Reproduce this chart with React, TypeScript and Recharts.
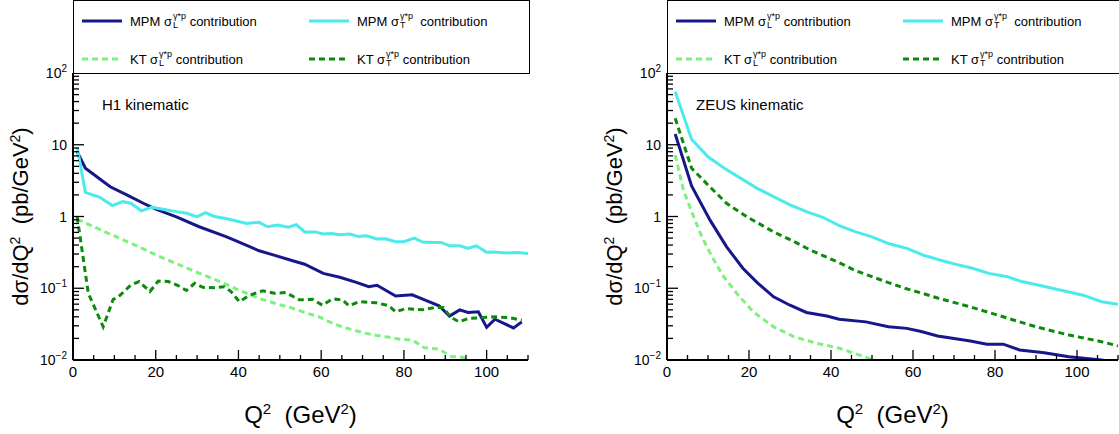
import React from "react";
import { LineChart, Line, XAxis, YAxis, Legend, Customized } from "recharts";

const FONT = "'Liberation Sans', Arial, Helvetica, sans-serif";

// ---- H1 kinematic (Q2 in GeV2, dsigma/dQ2 in pb/GeV2)
const H1_MPM_L_Q2 = [1, 3, 6, 9, 13, 17, 20, 25, 30.5, 37, 41, 45, 49, 52.5, 56, 60.5, 64.5, 68.5, 71.5, 73.5, 78, 82, 85, 88.5, 91, 93.5, 95.5, 98, 100, 102, 106.5, 108.5];
const H1_MPM_L = [8.0, 4.7, 3.5, 2.6, 2.0, 1.53, 1.27, 0.99, 0.72, 0.525, 0.42, 0.333, 0.285, 0.248, 0.216, 0.161, 0.142, 0.121, 0.105, 0.11, 0.078, 0.081, 0.069, 0.057, 0.041, 0.05, 0.046, 0.047, 0.0285, 0.037, 0.028, 0.034];

const H1_MPM_T_Q2 = [1, 3, 6.5, 9.5, 12, 14, 16.5, 19, 22.5, 25, 27.5, 30, 32, 34, 38, 42, 45, 47, 49.5, 52, 54, 56, 58.5, 60.5, 62.5, 64.5, 67, 69, 71, 73.5, 75.5, 78, 80, 82.5, 84.5, 87, 89, 91, 93.5, 95.5, 97.5, 100, 102, 104.5, 107.5, 110];
const H1_MPM_T = [9.2, 2.17, 1.85, 1.42, 1.61, 1.53, 1.2, 1.34, 1.24, 1.17, 1.11, 0.99, 1.13, 1.01, 0.91, 0.8, 0.83, 0.72, 0.76, 0.71, 0.77, 0.61, 0.61, 0.57, 0.58, 0.555, 0.57, 0.525, 0.54, 0.485, 0.49, 0.446, 0.446, 0.5, 0.44, 0.435, 0.435, 0.39, 0.39, 0.36, 0.39, 0.317, 0.32, 0.31, 0.315, 0.305];

const H1_KT_L_Q2 = [1, 5, 10, 15, 21, 25, 30, 35.5, 40, 45, 50, 52.5, 56.5, 59.5, 62, 65, 68, 70.8, 73.5, 76.4, 79, 82, 85, 88.4, 91.5, 94, 96, 98, 100];
const H1_KT_L = [0.92, 0.72, 0.535, 0.4, 0.275, 0.22, 0.167, 0.124, 0.095, 0.072, 0.059, 0.054, 0.045, 0.04, 0.034, 0.029, 0.026, 0.0235, 0.022, 0.0207, 0.0195, 0.019, 0.0148, 0.0142, 0.0112, 0.011, 0.0098, 0.0096, 0.0085];

const H1_KT_T_Q2 = [1, 3.7, 7.3, 9.7, 11, 14, 16, 18.6, 20.6, 23, 25.4, 27.4, 29.4, 31.4, 34.2, 36.6, 38.2, 40.2, 42.7, 45.9, 48.7, 51.5, 54.7, 57.9, 60.3, 62.7, 65.1, 66.7, 69.2, 73.2, 76.4, 78, 80.4, 84.4, 87.6, 89.5, 91.2, 93.3, 95.7, 98.9, 102, 105.3, 108.5];
const H1_KT_T = [1.0, 0.085, 0.029, 0.07, 0.076, 0.111, 0.124, 0.09, 0.126, 0.124, 0.109, 0.093, 0.117, 0.103, 0.102, 0.105, 0.09, 0.065, 0.08, 0.092, 0.085, 0.087, 0.069, 0.07, 0.058, 0.071, 0.069, 0.057, 0.065, 0.063, 0.057, 0.047, 0.052, 0.05, 0.054, 0.054, 0.04, 0.034, 0.038, 0.039, 0.04, 0.039, 0.036];

// ---- ZEUS kinematic
const ZEUS_MPM_L_Q2 = [2, 6, 10.5, 14.5, 18.5, 22, 26, 30, 34, 39, 42, 48.5, 54, 58.5, 62, 66, 70, 74, 78, 82, 86, 92, 98, 106, 108];
const ZEUS_MPM_L = [14.1, 2.66, 0.89, 0.38, 0.19, 0.12, 0.076, 0.058, 0.046, 0.041, 0.037, 0.034, 0.029, 0.0276, 0.025, 0.0216, 0.02, 0.0184, 0.0166, 0.0166, 0.0138, 0.0126, 0.0111, 0.01, 0.0095];

const ZEUS_MPM_T_Q2 = [2, 6, 10, 14, 18, 22, 26, 30, 34, 38, 42, 46, 50, 54, 58.5, 62.5, 66.5, 70.5, 74.5, 78.5, 83, 86.5, 91, 95, 101.5, 106, 110];
const ZEUS_MPM_T = [55, 11.9, 6.8, 4.7, 3.4, 2.47, 1.89, 1.45, 1.17, 0.975, 0.745, 0.61, 0.52, 0.42, 0.36, 0.29, 0.248, 0.215, 0.19, 0.161, 0.145, 0.124, 0.109, 0.097, 0.08, 0.065, 0.06];

const ZEUS_KT_L_Q2 = [2, 4, 6, 8.5, 11, 13.5, 17, 21, 26, 31, 36.5, 42, 47, 50.5, 54];
const ZEUS_KT_L = [7.2, 2.34, 1.17, 0.52, 0.275, 0.153, 0.085, 0.047, 0.029, 0.0211, 0.0171, 0.0146, 0.0117, 0.01, 0.0088];

const ZEUS_KT_T_Q2 = [2, 6, 10, 14.5, 19.5, 26, 31, 35, 41.5, 46, 50, 54, 58, 62, 66, 74, 82, 90, 98, 106, 110];
const ZEUS_KT_T = [23.4, 4.7, 2.75, 1.53, 0.99, 0.61, 0.446, 0.34, 0.234, 0.176, 0.145, 0.12, 0.1, 0.086, 0.073, 0.055, 0.04, 0.029, 0.0223, 0.018, 0.0157];

// ---- axes
const X_TICKS = [0, 5, 10, 15, 20, 25, 30, 35, 40, 45, 50, 55, 60, 65, 70, 75, 80, 85, 90, 95, 100, 105, 110];
const X_LABELS = [0, 20, 40, 60, 80, 100];
const Y_DECADES = [0.01, 0.1, 1, 10, 100];
const Y_DECADE_LABELS: Record<string, [string, string]> = {
  "0.01": ["10", "\u22122"],
  "0.1": ["10", "\u22121"],
  "1": ["1", ""],
  "10": ["10", ""],
  "100": ["10", "2"],
};
const Y_MINOR = [2, 3, 4, 5, 6, 7, 8, 9];
const Y_TICKS = [
  ...Y_DECADES.slice(0, 4).flatMap((d) => [d, ...Y_MINOR.map((m) => +(m * d).toPrecision(3))]),
  100,
];

const COLORS = {
  mpmL: "#17178c",
  mpmT: "#4ceaea",
  ktL: "#7ef07e",
  ktT: "#0d8a0d",
};

const LEGEND_ITEMS = [
  { label: "MPM", sub: "L", gap: " ", color: COLORS.mpmL, dash: undefined, col: 0, row: 0 },
  { label: "MPM", sub: "T", gap: "\u00a0\u00a0", color: COLORS.mpmT, dash: undefined, col: 1, row: 0 },
  { label: "KT", sub: "L", gap: " ", color: COLORS.ktL, dash: "6 4", col: 0, row: 1 },
  { label: "KT", sub: "T", gap: " ", color: COLORS.ktT, dash: "6 4", col: 1, row: 1 },
];

const zip = (xs: number[], ys: number[]) => xs.map((x, i) => ({ x, y: ys[i] }));

const H = 434;
const TOP = 73;
const BOTTOM = 360;

function LegendBox({ width }: { width: number }) {
  return (
    <div
      style={{
        position: "relative",
        width,
        height: TOP + 1,
        border: "1px solid #000",
        boxSizing: "border-box",
        background: "#fff",
        fontFamily: FONT,
        fontSize: 13,
        color: "#000",
      }}
    >
      {LEGEND_ITEMS.map((it, i) => (
        <div
          key={i}
          style={{
            position: "absolute",
            left: 8 + it.col * 227,
            top: (it.row === 0 ? 20 : 58) - 11,
            height: 22,
            display: "flex",
            alignItems: "center",
            whiteSpace: "nowrap",
          }}
        >
          <svg width={40} height={6} style={{ display: "block" }}>
            <line x1={0} x2={40} y1={3} y2={3} stroke={it.color} strokeWidth={3} strokeDasharray={it.dash} />
          </svg>
          <span style={{ marginLeft: 8, display: "inline-flex", alignItems: "center" }}>
            <span>{it.label} σ</span>
            <span
              style={{
                display: "inline-flex",
                flexDirection: "column",
                fontSize: 9,
                lineHeight: "9px",
                marginLeft: 1,
              }}
            >
              <span>γ*p</span>
              <span>{it.sub}</span>
            </span>
            <span style={{ whiteSpace: "pre" }}>{it.gap}contribution</span>
          </span>
        </div>
      ))}
    </div>
  );
}

function Decor({ plotLeft, plotRight, title }: { plotLeft: number; plotRight: number; title: string }) {
  const cx = (plotLeft + plotRight) / 2;
  const cy = (TOP + BOTTOM) / 2;
  return (
    <g fontFamily={FONT} fill="#000">
      <text x={plotLeft + 29} y={110} fontSize={15}>
        {title}
      </text>
      <text x={cx} y={423} textAnchor="middle" fontSize={24}>
        Q<tspan dy={-9} fontSize={15}>2</tspan>
        <tspan dy={9}>{"\u00a0\u00a0(GeV"}</tspan>
        <tspan dy={-9} fontSize={15}>2</tspan>
        <tspan dy={9}>)</tspan>
      </text>
      <text transform={`translate(${plotLeft - 45}, ${cy}) rotate(-90)`} textAnchor="middle" fontSize={22}>
        dσ/dQ<tspan dy={-8} fontSize={14}>2</tspan>
        <tspan dy={8}>{"\u00a0\u00a0(pb/GeV"}</tspan>
        <tspan dy={-8} fontSize={14}>2</tspan>
        <tspan dy={8}>)</tspan>
      </text>
    </g>
  );
}

type Series = { data: { x: number; y: number }[]; color: string; dash?: string; name: string };

function Panel({
  width,
  plotLeft,
  rightMargin,
  title,
  series,
}: {
  width: number;
  plotLeft: number;
  rightMargin: number;
  title: string;
  series: Series[];
}) {
  const plotRight = width - rightMargin;

  const xTickBottom = (p: any) => {
    const x = p.payload.coordinate;
    const major = X_LABELS.includes(p.payload.value);
    return (
      <g>
        <line x1={x} x2={x} y1={BOTTOM} y2={BOTTOM - (major ? 10 : 5)} stroke="#000" strokeWidth={1.3} />
        {major && (
          <text x={x} y={BOTTOM + 17} textAnchor="middle" fontSize={15} fontFamily={FONT} fill="#000">
            {p.payload.value}
          </text>
        )}
      </g>
    );
  };
  const xTickTop = (p: any) => {
    const x = p.payload.coordinate;
    const major = X_LABELS.includes(p.payload.value);
    return <line x1={x} x2={x} y1={TOP} y2={TOP + (major ? 10 : 5)} stroke="#000" strokeWidth={1.3} />;
  };
  const yTickLeft = (p: any) => {
    const y = p.payload.coordinate;
    const lab = Y_DECADE_LABELS[String(p.payload.value)];
    return (
      <g>
        <line x1={plotLeft} x2={plotLeft + (lab ? 11 : 6)} y1={y} y2={y} stroke="#000" strokeWidth={1.3} />
        {lab && (
          <text x={plotLeft - 6} y={y + 5} textAnchor="end" fontSize={14} fontFamily={FONT} fill="#000">
            {lab[0]}
            {lab[1] && (
              <tspan dy={-6} fontSize={10}>
                {lab[1]}
              </tspan>
            )}
          </text>
        )}
      </g>
    );
  };
  const yTickRight = (p: any) => {
    const y = p.payload.coordinate;
    const major = Y_DECADES.includes(p.payload.value);
    return <line x1={plotRight} x2={plotRight - (major ? 10 : 5)} y1={y} y2={y} stroke="#000" strokeWidth={1.3} />;
  };

  return (
    <LineChart width={width} height={H} margin={{ top: TOP, right: rightMargin, bottom: 0, left: 0 }}>
      <XAxis
        xAxisId="b"
        type="number"
        dataKey="x"
        domain={[0, 110]}
        ticks={X_TICKS}
        interval={0}
        allowDataOverflow
        height={H - BOTTOM}
        tickLine={false}
        axisLine={{ stroke: "#000", strokeWidth: 2 }}
        tick={xTickBottom}
      />
      <XAxis
        xAxisId="t"
        orientation="top"
        type="number"
        dataKey="x"
        domain={[0, 110]}
        ticks={X_TICKS}
        interval={0}
        allowDataOverflow
        height={0}
        tickLine={false}
        axisLine={{ stroke: "#000", strokeWidth: 2 }}
        tick={xTickTop}
      />
      <YAxis
        yAxisId="l"
        scale="log"
        type="number"
        domain={[0.01, 100]}
        ticks={Y_TICKS}
        interval={0}
        allowDataOverflow
        width={plotLeft}
        tickLine={false}
        axisLine={{ stroke: "#000", strokeWidth: 2 }}
        tick={yTickLeft}
      />
      <YAxis
        yAxisId="r"
        orientation="right"
        scale="log"
        type="number"
        domain={[0.01, 100]}
        ticks={Y_TICKS}
        interval={0}
        allowDataOverflow
        width={0}
        tickLine={false}
        axisLine={{ stroke: "#000", strokeWidth: 2 }}
        tick={yTickRight}
      />
      {series.map((s) => (
        <Line
          key={s.name}
          name={s.name}
          data={s.data}
          dataKey="y"
          xAxisId="b"
          yAxisId="l"
          type="linear"
          stroke={s.color}
          strokeWidth={3}
          strokeDasharray={s.dash}
          dot={false}
          activeDot={false}
          isAnimationActive={false}
        />
      ))}
      <Legend
        layout="horizontal"
        verticalAlign="middle"
        align="center"
        wrapperStyle={{ left: plotLeft, top: 0, width: 457, height: TOP + 1 }}
        content={() => <LegendBox width={457} />}
      />
      <Customized component={<Decor plotLeft={plotLeft} plotRight={plotRight} title={title} />} />
    </LineChart>
  );
}

export default function App() {
  const h1: Series[] = [
    { name: "H1 MPM L", data: zip(H1_MPM_L_Q2, H1_MPM_L), color: COLORS.mpmL },
    { name: "H1 MPM T", data: zip(H1_MPM_T_Q2, H1_MPM_T), color: COLORS.mpmT },
    { name: "H1 KT L", data: zip(H1_KT_L_Q2, H1_KT_L), color: COLORS.ktL, dash: "6 4" },
    { name: "H1 KT T", data: zip(H1_KT_T_Q2, H1_KT_T), color: COLORS.ktT, dash: "6 4" },
  ];
  const zeus: Series[] = [
    { name: "ZEUS MPM L", data: zip(ZEUS_MPM_L_Q2, ZEUS_MPM_L), color: COLORS.mpmL },
    { name: "ZEUS MPM T", data: zip(ZEUS_MPM_T_Q2, ZEUS_MPM_T), color: COLORS.mpmT },
    { name: "ZEUS KT L", data: zip(ZEUS_KT_L_Q2, ZEUS_KT_L), color: COLORS.ktL, dash: "6 4" },
    { name: "ZEUS KT T", data: zip(ZEUS_KT_T_Q2, ZEUS_KT_T), color: COLORS.ktT, dash: "6 4" },
  ];

  return (
    <div
      style={{
        position: "absolute",
        left: 0,
        top: 0,
        width: 1119,
        height: H,
        overflow: "hidden",
        background: "#fff",
        display: "flex",
      }}
    >
      <Panel width={560} plotLeft={73} rightMargin={32} title="H1 kinematic" series={h1} />
      <Panel width={559} plotLeft={107} rightMargin={1} title="ZEUS kinematic" series={zeus} />
    </div>
  );
}
